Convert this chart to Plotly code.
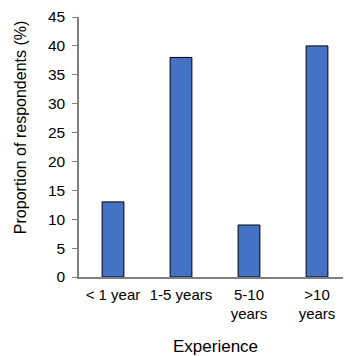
import plotly.graph_objects as go

categories = ["< 1 year", "1-5 years", "5-10<br>years", ">10<br>years"]
values = [13, 38, 9, 40]
y_ticks = [0, 5, 10, 15, 20, 25, 30, 35, 40, 45]

FONT = "Liberation Sans, Arial, sans-serif"

# page body has an 8px default margin; figure occupies (8,8)-(351,356)
OFF = 8
W, H = 351 - OFF, 356 - OFF
L, R, T, B = 79 - OFF, 0, 15 - OFF, 356 - 277
pw, ph = W - L - R, H - T - B


def px2paper(px, py):
    return (px - OFF - L) / pw, (H - B - (py - OFF)) / ph


fig = go.Figure(go.Bar(
    x=categories, y=values,
    marker=dict(color="#4472C4", line=dict(color="#000000", width=1)),
    width=0.32,
))

ytx, yty = px2paper(20, 127)
xtx, xty = px2paper(215, 347)

fig.update_layout(
    width=W, height=H,
    margin=dict(l=L, r=R, t=T, b=B, pad=0),
    paper_bgcolor="white", plot_bgcolor="white",
    font=dict(family=FONT, size=15, color="#000000"),
    showlegend=False,
    xaxis=dict(
        showline=True, linecolor="#808080", linewidth=1.5,
        ticks="", showgrid=False, tickfont=dict(size=15), ticklabelstandoff=3,
        ticklabeloverflow="allow",
    ),
    yaxis=dict(
        range=[0, 45], tickvals=y_ticks, showline=True, linecolor="#808080",
        linewidth=1.5, ticks="outside", ticklen=5, tickcolor="#808080",
        showgrid=False, zeroline=False, tickfont=dict(size=15.5), ticklabelstandoff=4,
        ticklabeloverflow="allow",
    ),
    annotations=[
        dict(text="Proportion of respondents (%)", x=ytx, y=yty, xref="paper", yref="paper",
             xanchor="center", yanchor="middle",
             showarrow=False, textangle=-90, font=dict(size=16)),
        dict(text="Experience", x=xtx, y=xty, xref="paper", yref="paper",
             xanchor="center", yanchor="middle", showarrow=False, font=dict(size=17)),
    ],
)
fig.write_html("out.html")
